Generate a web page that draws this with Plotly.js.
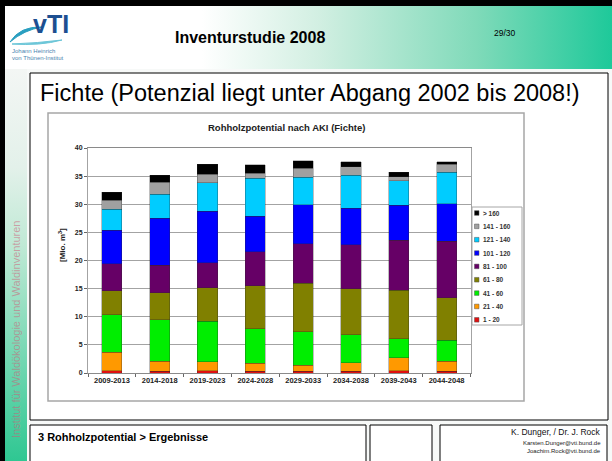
<!DOCTYPE html>
<html>
<head>
<meta charset="utf-8">
<script src="https://cdn.plot.ly/plotly-3.0.1.min.js"></script>
<style>
html,body{margin:0;padding:0;background:#fff;}
#wrap{position:relative;width:612px;height:461px;overflow:hidden;background:#fff;}
#hdr{position:absolute;left:0;top:0;width:612px;height:69px;
 background:linear-gradient(to right,#ffffff 0%,#ffffff 33%,#d2efe2 52%,#7fdab9 78%,#1ec99a 100%);}
#topbar{position:absolute;left:0;top:0;width:612px;height:6px;background:#000;}
#leftbar{position:absolute;left:0;top:0;width:5px;height:461px;background:#000;}
#strip{position:absolute;left:5px;top:69px;width:22px;height:392px;
 background:linear-gradient(to bottom,#f3f6f4 0%,#e3f1ea 25%,#bfe9d5 45%,#2fc792 100%);}
#gap{position:absolute;left:27px;top:69px;width:585px;height:392px;background:#f7f9f8;}
#chart{position:absolute;left:0;top:0;width:612px;height:461px;}
</style>
</head>
<body>
<div id="wrap">
<div id="gap"></div>
<div id="hdr"></div>
<div id="strip"></div>
<div id="topbar"></div>
<div id="leftbar"></div>
<div id="chart"></div>
</div>
<script>
// ---- data ----
var periods = ['2009-2013','2014-2018','2019-2023','2024-2028','2029-2033','2034-2038','2039-2043','2044-2048'];
var classLabels = ['1 - 20','21 - 40','41 - 60','61 - 80','81 - 100','101 - 120','121 - 140','141 - 160','> 160'];
var class_1_20    = [0.4, 0.3, 0.4, 0.3, 0.3, 0.3, 0.4, 0.3];
var class_21_40   = [3.3, 1.8, 1.6, 1.4, 1.1, 1.5, 2.3, 1.8];
var class_41_60   = [6.7, 7.4, 7.2, 6.2, 5.9, 5.0, 3.4, 3.7];
var class_61_80   = [4.2, 4.8, 6.0, 7.6, 8.7, 8.2, 8.6, 7.6];
var class_81_100  = [4.8, 4.9, 4.4, 6.1, 7.0, 7.8, 8.9, 10.0];
var class_101_120 = [6.0, 8.3, 9.2, 6.3, 6.9, 6.5, 6.2, 6.7];
var class_121_140 = [3.7, 4.3, 5.0, 6.7, 4.9, 5.9, 4.4, 5.6];
var class_141_160 = [1.6, 2.1, 1.5, 0.9, 1.6, 1.5, 0.7, 1.4];
var class_gt160   = [1.4, 1.3, 1.8, 1.5, 1.3, 0.9, 0.8, 0.5];
var yTickVals = [0,5,10,15,20,25,30,35,40];

var seriesValues = [class_1_20,class_21_40,class_41_60,class_61_80,class_81_100,class_101_120,class_121_140,class_141_160,class_gt160];
var colors = ['#e01010','#ff9900','#00ee00','#808000','#660066','#0000ff','#00ccff','#a0a0a0','#000000'];

var W = 612, H = 461;
function px(x){return x/W;}
function py(y){return 1 - y/H;}
var FONT = 'Liberation Sans, Arial, sans-serif';

var traces = seriesValues.map(function(vals,i){
  return {type:'bar', x:periods, y:vals, name:classLabels[i],
    marker:{color:colors[i], line:{color:'rgba(40,40,40,0.6)', width:0.5}},
    showlegend:false, hoverinfo:'skip'};
});

var shapes = [];
var annotations = [];
function rect(x0,y0,x1,y1,line,fill,lw){
  shapes.push({type:'rect',xref:'paper',yref:'paper',x0:px(x0),x1:px(x1),y0:py(y1),y1:py(y0),
    line:{color:line,width:lw===undefined?1:lw},fillcolor:fill,layer:'below'});
}
function txt(x,y,s,size,opts){
  opts=opts||{};
  annotations.push({xref:'paper',yref:'paper',x:px(x),y:py(y),text:s,showarrow:false,
    xanchor:opts.xanchor||'center',yanchor:'middle',textangle:opts.angle||0,
    font:{family:FONT,size:size,color:opts.color||'#000',weight:opts.weight||'normal'}});
}
// slide content boxes
rect(30,73,608,420,'#000','#ffffff',1);
rect(30,425,366,470,'#000','#ffffff',1);
rect(370,425,432,470,'#000','#ffffff',1);
rect(440,425,607,470,'#000','#ffffff',1);
// chart frame
rect(48,113,524,401,'#a6a6a6','#ffffff',1.5);
// logo swoosh
shapes.push({type:'path',xref:'paper',yref:'paper',layer:'above',
  path:'M '+px(10)+' '+py(42)+' Q '+px(20)+' '+py(26)+' '+px(42)+' '+py(27)+' Q '+px(24)+' '+py(30)+' '+px(10)+' '+py(42)+' Z',
  fillcolor:'#2a9fc0',line:{color:'#2a9fc0',width:1}});
shapes.push({type:'path',xref:'paper',yref:'paper',layer:'above',
  path:'M '+px(12)+' '+py(44)+' Q '+px(40)+' '+py(46)+' '+px(62)+' '+py(40)+' Q '+px(38)+' '+py(43)+' '+px(12)+' '+py(44)+' Z',
  fillcolor:'#6cc6d8',line:{color:'#6cc6d8',width:1}});
// legend (manual, compact like the original)
rect(472,207,522,325,'#a6a6a6','#ffffff',1);
var legendOrder = [8,7,6,5,4,3,2,1,0];
legendOrder.forEach(function(ci,k){
  var yc = 213 + k*13.35;
  shapes.push({type:'rect',xref:'paper',yref:'paper',x0:px(474.5),x1:px(479),y0:py(yc+2.3),y1:py(yc-2.3),
    fillcolor:colors[ci],line:{color:'#555',width:0.5},layer:'above'});
  txt(480.5,yc,classLabels[ci],6.5,{xanchor:'left',weight:'bold',color:'#333'});
});

// texts
txt(250,37,'Inventurstudie 2008',16,{weight:'bold'});
txt(505,33,'29/30',8.5);
txt(51,24,'vTI',25,{weight:'bold',color:'#1d4f91'});
txt(10,51,'Johann Heinrich',6,{xanchor:'left',color:'#4a84b0'});
txt(10,58,'von Thünen-Institut',6,{xanchor:'left',color:'#4a84b0'});
txt(309.5,93,'Fichte (Potenzial liegt unter Abgang 2002 bis 2008!)',23.5);
txt(286,128,'Rohholzpotential nach AKI (Fichte)',9.5,{weight:'bold',color:'#222'});
txt(62,245,'[Mio. m<sup>3</sup>]',8,{angle:-90,weight:'bold',color:'#222'});
txt(36,437,'3 Rohholzpotential &gt; Ergebnisse',11,{xanchor:'left',weight:'bold'});
txt(603,432,'K. Dunger, / Dr. J. Rock',8.5,{xanchor:'right',color:'#111'});
txt(603,443,'Karsten.Dunger@vti.bund.de',6,{xanchor:'right',color:'#222'});
txt(603,451,'Joachim.Rock@vti.bund.de',6,{xanchor:'right',color:'#222'});
txt(16,330,'Institut für Waldökologie und Waldinventuren',11,{angle:-90,color:'rgba(205,95,120,0.55)'});

var layout = {
  width:W, height:H,
  margin:{l:0,r:0,t:0,b:0},
  paper_bgcolor:'rgba(0,0,0,0)', plot_bgcolor:'#ffffff',
  barmode:'stack', bargap:0.58,
  showlegend:false,
  xaxis:{domain:[px(88),px(470.5)], type:'category', showgrid:false,
    showline:true, linecolor:'#8a8a8a', linewidth:1, mirror:true,
    ticks:'outside', tickson:'boundaries', ticklen:3, tickcolor:'#666',
    tickfont:{family:FONT,size:7.5,color:'#222',weight:'bold'}, automargin:false},
  yaxis:{domain:[py(373),py(148)], range:[0,40], tickvals:yTickVals,
    showgrid:true, gridcolor:'#a3a3a3', gridwidth:1, zeroline:false,
    showline:true, linecolor:'#a3a3a3', mirror:true,
    ticks:'outside', ticklen:3, tickcolor:'#666',
    tickfont:{family:FONT,size:7,color:'#222',weight:'bold'}, automargin:false},
  shapes:shapes, annotations:annotations
};
Plotly.newPlot('chart', traces, layout, {displayModeBar:false, staticPlot:true});
</script>
</body>
</html>
